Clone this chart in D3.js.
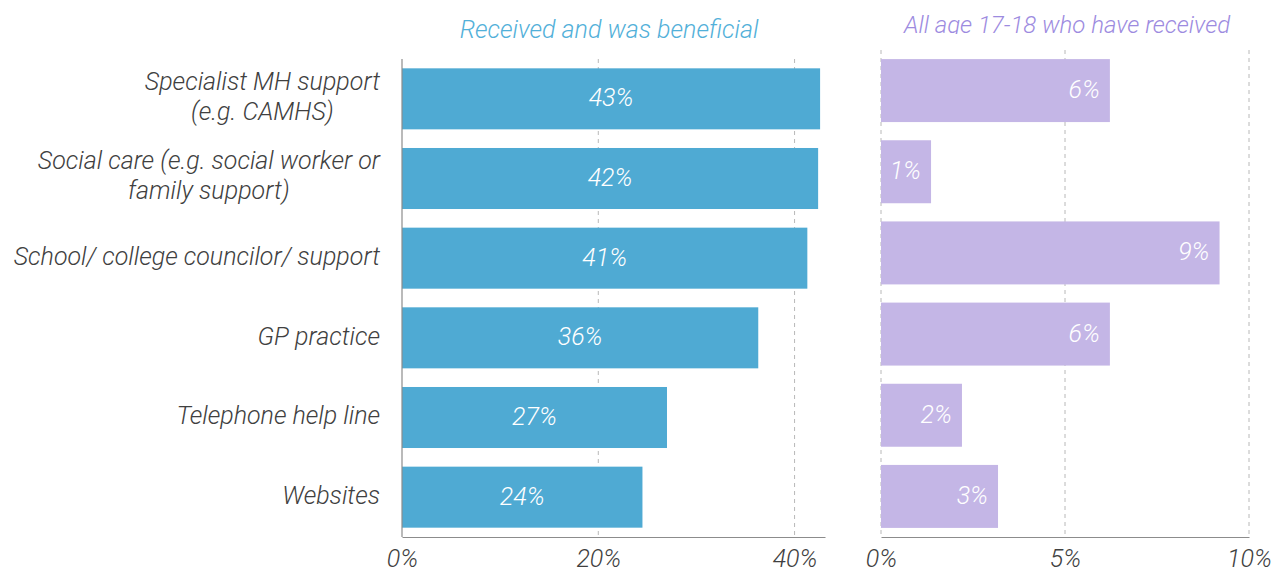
<!DOCTYPE html>
<html>
<head>
<meta charset="utf-8">
<script src="https://cdn.jsdelivr.net/npm/d3@7/dist/d3.min.js"></script>
<style>
  html, body { margin: 0; padding: 0; background: #ffffff; }
  svg { display: block; }
  text { font-family: Roboto, "Noto Sans", sans-serif; font-style: italic; }
</style>
</head>
<body>
<svg id="chart" width="1271" height="574"></svg>
<script>
const categories = [
  ["Specialist MH support", "(e.g. CAMHS)"],
  ["Social care (e.g. social worker or", "family support)"],
  ["School/ college councilor/ support"],
  ["GP practice"],
  ["Telephone help line"],
  ["Websites"]
];
const beneficialValues = [42.6, 42.4, 41.3, 36.3, 27.0, 24.5];
const beneficialLabels = ["43%", "42%", "41%", "36%", "27%", "24%"];
const receivedValues = [6.22, 1.36, 9.2, 6.22, 2.2, 3.18];
const receivedLabels = ["6%", "1%", "9%", "6%", "2%", "3%"];
const leftTicks = [0, 20, 40];
const rightTicks = [0, 5, 10];
const leftTitle = "Received and was beneficial";
const rightTitle = "All age 17-18 who have received";

const svg = d3.select("#chart");
const idx = d3.range(categories.length);

const blue = "#4faad3", purple = "#c4b6e6";
const blueTitle = "#52b0d9", purpleTitle = "#9d8bdf";
const textCol = "#404040", axisCol = "#8c8c8c", gridCol = "#b8b8b8";
const FS = 25, FW = 300;

// ---------- Left panel ----------
const xL = d3.scaleLinear().domain([0, 43.1]).range([402, 825]);
const yL = d3.scaleBand().domain(idx).range([59, 537]).paddingInner(0.234).paddingOuter(0.117);

svg.append("g").selectAll("line").data(leftTicks.filter(t => t > 0)).join("line")
  .attr("x1", d => xL(d)).attr("x2", d => xL(d))
  .attr("y1", 59).attr("y2", 537)
  .attr("stroke", gridCol).attr("stroke-width", 1).attr("stroke-dasharray", "4,4");

svg.append("g").selectAll("rect").data(idx).join("rect")
  .attr("x", xL(0)).attr("y", i => yL(i))
  .attr("width", i => xL(beneficialValues[i]) - xL(0))
  .attr("height", yL.bandwidth())
  .attr("fill", blue);

svg.append("g").selectAll("text").data(idx).join("text")
  .attr("x", i => (xL(0) + xL(beneficialValues[i])) / 2)
  .attr("y", i => yL(i) + yL.bandwidth() / 2)
  .attr("dy", "0.3em").attr("text-anchor", "middle")
  .attr("fill", "#ffffff").attr("font-size", FS).attr("font-weight", FW)
  .text(i => beneficialLabels[i]);

const axL = svg.append("g").attr("transform", "translate(0,537)")
  .call(d3.axisBottom(xL).tickValues(leftTicks).tickFormat(d => d + "%").tickSize(0).tickPadding(12));
axL.select(".domain").attr("stroke", axisCol).attr("stroke-width", 1.2);
axL.selectAll("text").attr("font-size", FS).attr("fill", textCol).attr("font-weight", FW)
  .style("font-family", "Roboto, sans-serif").style("font-style", "italic");

svg.append("line").attr("x1", xL(0)).attr("x2", xL(0)).attr("y1", 59).attr("y2", 537)
  .attr("stroke", axisCol).attr("stroke-width", 1.2);

const catG = svg.append("g");
idx.forEach(i => {
  const lines = categories[i];
  const lh = 30;
  const cy = yL(i) + yL.bandwidth() / 2 - (lines.length > 1 ? 3 : 2);
  const t = catG.append("text")
    .attr("fill", textCol).attr("font-size", FS).attr("font-weight", FW)
    .attr("text-anchor", "middle");
  lines.forEach((ln, k) => {
    t.append("tspan").attr("y", cy + (k - (lines.length - 1) / 2) * lh).attr("dy", "0.35em").text(ln);
  });
  let maxW = 0;
  t.selectAll("tspan").each(function() { maxW = Math.max(maxW, this.getComputedTextLength()); });
  t.selectAll("tspan").attr("x", 380 - maxW / 2);
});

svg.append("text").attr("x", 609).attr("y", 29).attr("dy", "0.35em")
  .attr("text-anchor", "middle").attr("fill", blueTitle).attr("font-size", FS).attr("font-weight", FW)
  .text(leftTitle);

// ---------- Right panel ----------
const xR = d3.scaleLinear().domain([0, 10]).range([881, 1249]);
const yR = d3.scaleBand().domain(idx).range([50, 537]).paddingInner(0.224).paddingOuter(0.112);

svg.append("g").selectAll("line").data(rightTicks).join("line")
  .attr("x1", d => xR(d)).attr("x2", d => xR(d))
  .attr("y1", 50).attr("y2", 537)
  .attr("stroke", gridCol).attr("stroke-width", 1).attr("stroke-dasharray", "4,4");

svg.append("g").selectAll("rect").data(idx).join("rect")
  .attr("x", xR(0)).attr("y", i => yR(i))
  .attr("width", i => xR(receivedValues[i]) - xR(0))
  .attr("height", yR.bandwidth())
  .attr("fill", purple);

svg.append("g").selectAll("text").data(idx).join("text")
  .attr("x", i => xR(receivedValues[i]) - 10)
  .attr("y", i => yR(i) + yR.bandwidth() / 2)
  .attr("dy", "0.3em").attr("text-anchor", "end")
  .attr("fill", "#ffffff").attr("font-size", FS).attr("font-weight", FW)
  .text(i => receivedLabels[i]);

const axR = svg.append("g").attr("transform", "translate(0,537)")
  .call(d3.axisBottom(xR).tickValues(rightTicks).tickFormat(d => d + "%").tickSize(0).tickPadding(12));
axR.select(".domain").attr("stroke", axisCol).attr("stroke-width", 1.2);
axR.selectAll("text").attr("font-size", FS).attr("fill", textCol).attr("font-weight", FW)
  .style("font-family", "Roboto, sans-serif").style("font-style", "italic");

svg.append("clipPath").attr("id", "titleClip").append("rect")
  .attr("x", 850).attr("y", 0).attr("width", 421).attr("height", 34);
svg.append("text").attr("x", 1067).attr("y", 25).attr("dy", "0.35em")
  .attr("clip-path", "url(#titleClip)")
  .attr("text-anchor", "middle").attr("fill", purpleTitle).attr("font-size", 24).attr("font-weight", FW)
  .text(rightTitle);
</script>
</body>
</html>
